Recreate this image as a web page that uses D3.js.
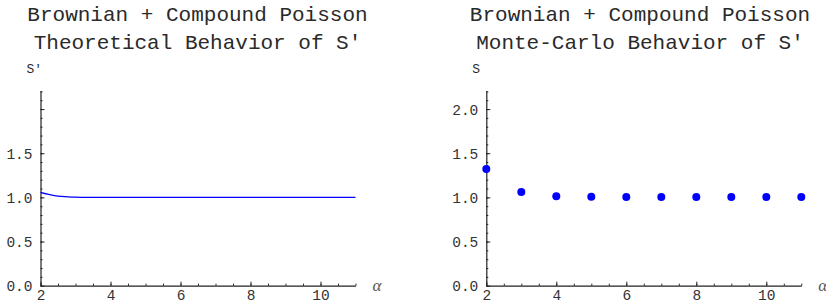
<!DOCTYPE html>
<html>
<head>
<meta charset="utf-8">
<script src="https://cdn.jsdelivr.net/npm/d3@7"></script>
<style>
  body { margin: 0; background: #fff; }
  text { font-family: "Liberation Mono", "DejaVu Sans Mono", monospace; fill: #2a2a2a; }
</style>
</head>
<body>
<div id="chart"></div>
<script>
// theoretical curve S'(alpha)
var theoAlpha = [2, 2.2, 2.4, 2.6, 2.8, 3, 3.3, 3.6, 4, 5, 6, 7, 8, 9, 10, 11];
var theoS = [1.057, 1.036, 1.021, 1.011, 1.005, 1.002, 1.0, 1.0, 1.0, 1.0, 1.0, 1.0, 1.0, 1.0, 1.0, 1.0];

// Monte-Carlo estimates, right panel
var mcAlpha = [2, 3, 4, 5, 6, 7, 8, 9, 10, 11];
var mcS = [1.32, 1.061, 1.012, 1.008, 1.004, 1.004, 1.004, 1.004, 1.004, 1.004];

var xMajor = [2, 4, 6, 8, 10];
var yMajor = [0, 0.5, 1.0, 1.5, 2.0];

var width = 826, height = 308;

var svg = d3.select("#chart").append("svg")
  .attr("width", width)
  .attr("height", height);

function panel(opts) {
  var g = svg.append("g");

  var x = d3.scaleLinear().domain([2, 11]).range([opts.left, opts.left + 315]);
  var y = d3.scaleLinear().domain([0, 2.21]).range([285.7, 90.5]);

  // titles
  g.append("text")
    .attr("x", opts.cx).attr("y", 21)
    .attr("text-anchor", "middle")
    .style("font-size", "21px")
    .text("Brownian + Compound Poisson");
  g.append("text")
    .attr("x", opts.cx).attr("y", 48.5)
    .attr("text-anchor", "middle")
    .style("font-size", "21px")
    .text(opts.title);

  // y label
  g.append("text")
    .attr("x", opts.left - 14).attr("y", 73)
    .style("font-size", "13px")
    .text(opts.ylabel);

  // minor ticks
  var yMinor = d3.range(0, 2.21, 0.1);
  var xMinor = d3.range(2, 11.01, 0.5);

  g.append("g")
    .attr("transform", "translate(" + x(2) + ",0)")
    .call(d3.axisLeft(y).tickValues(yMinor).tickSizeInner(-2).tickSizeOuter(0).tickFormat(""))
    .call(function(a) { a.select(".domain").remove(); });

  g.append("g")
    .attr("transform", "translate(0," + y(0) + ")")
    .call(d3.axisBottom(x).tickValues(xMinor).tickSizeInner(-2).tickSizeOuter(0).tickFormat(""))
    .call(function(a) { a.select(".domain").remove(); });

  // major axes
  var yAxis = g.append("g")
    .attr("transform", "translate(" + x(2) + ",0)")
    .call(d3.axisLeft(y).tickValues(yMajor).tickSizeInner(-4).tickSizeOuter(0).tickPadding(8)
      .tickFormat(function(d) { return (d === 2 && !opts.show2) ? "" : d3.format(".1f")(d); }));

  var xAxis = g.append("g")
    .attr("transform", "translate(0," + y(0) + ")")
    .call(d3.axisBottom(x).tickValues(xMajor).tickSizeInner(-4).tickSizeOuter(0).tickPadding(4)
      .tickFormat(d3.format("d")));

  g.selectAll(".tick line").attr("stroke", "#222");
  g.selectAll(".domain").attr("stroke", "#222").attr("stroke-width", 1.2);
  yAxis.selectAll("text").style("font-size", "14.5px").style("font-family", "Liberation Mono, monospace").style("fill", "#333").attr("dy", "0.35em");
  xAxis.selectAll("text").style("font-size", "14.5px").style("font-family", "Liberation Mono, monospace").style("fill", "#333");

  g.append("text")
    .attr("x", x(11) + 17).attr("y", y(0) + 5)
    .style("font-family", "Liberation Serif, serif")
    .style("font-style", "italic")
    .style("font-size", "17px")
    .style("fill", "#555")
    .text("\u03b1");

  return { g: g, x: x, y: y };
}

var left = panel({ left: 40.5, cx: 197.5, title: "Theoretical Behavior of S'", ylabel: "S'", show2: false });
var right = panel({ left: 486.3, cx: 640, title: "Monte-Carlo Behavior of S'", ylabel: "S", show2: true });

var line = d3.line()
  .x(function(d) { return left.x(d[0]); })
  .y(function(d) { return left.y(d[1]); })
  .curve(d3.curveMonotoneX);

left.g.append("path")
  .datum(d3.zip(theoAlpha, theoS))
  .attr("fill", "none")
  .attr("stroke", "#0000ff")
  .attr("stroke-width", 1.3)
  .attr("d", line);

right.g.selectAll(".dot")
  .data(d3.zip(mcAlpha, mcS))
  .enter().append("circle")
  .attr("class", "dot")
  .attr("cx", function(d) { return right.x(d[0]); })
  .attr("cy", function(d) { return right.y(d[1]); })
  .attr("r", 4)
  .attr("fill", "#0000ff");
</script>
</body>
</html>
